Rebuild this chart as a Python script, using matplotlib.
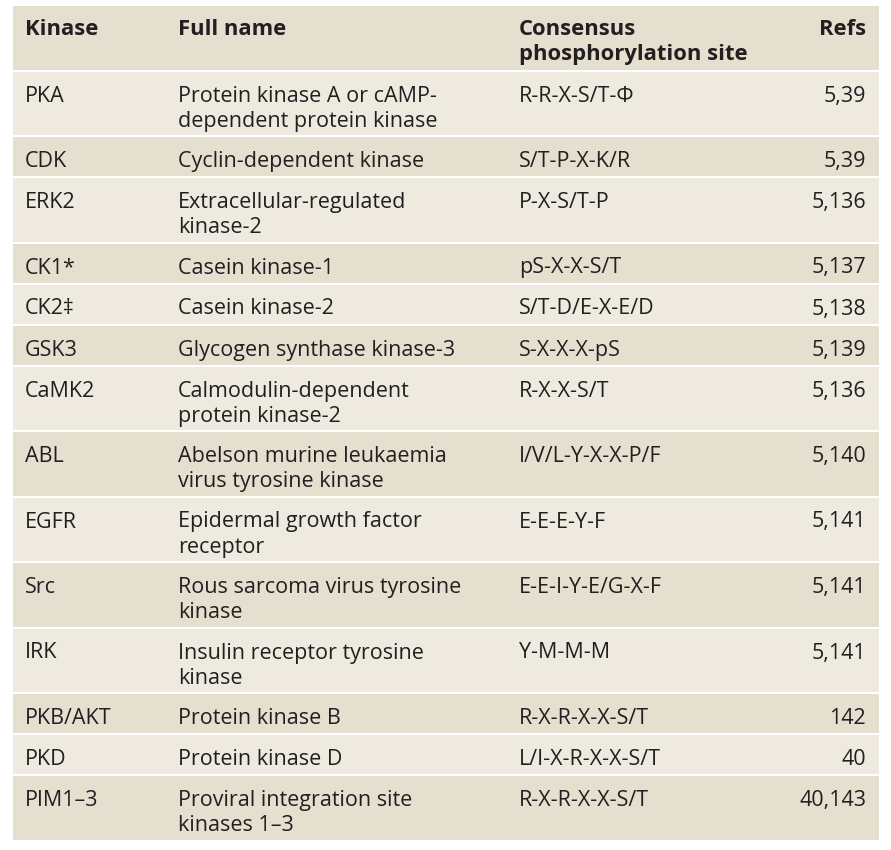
import matplotlib
matplotlib.use("Agg")
import matplotlib.pyplot as plt
from matplotlib.patches import Rectangle

# données du tableau
header = ["Kinase", "Full name", "Consensus\nphosphorylation site", "Refs"]
kinases = ["PKA", "CDK", "ERK2", "CK1*", "CK2\u2021", "GSK3", "CaMK2", "ABL",
           "EGFR", "Src", "IRK", "PKB/AKT", "PKD", "PIM1\u20133"]
full_names = [
    "Protein kinase A or cAMP-\ndependent protein kinase",
    "Cyclin-dependent kinase",
    "Extracellular-regulated\nkinase-2",
    "Casein kinase-1",
    "Casein kinase-2",
    "Glycogen synthase kinase-3",
    "Calmodulin-dependent\nprotein kinase-2",
    "Abelson murine leukaemia\nvirus tyrosine kinase",
    "Epidermal growth factor\nreceptor",
    "Rous sarcoma virus tyrosine\nkinase",
    "Insulin receptor tyrosine\nkinase",
    "Protein kinase B",
    "Protein kinase D",
    "Proviral integration site\nkinases 1\u20133",
]
sites = ["R-R-X-S/T-\u03a6", "S/T-P-X-K/R", "P-X-S/T-P", "pS-X-X-S/T",
         "S/T-D/E-X-E/D", "S-X-X-X-pS", "R-X-X-S/T", "I/V/L-Y-X-X-P/F",
         "E-E-E-Y-F", "E-E-I-Y-E/G-X-F", "Y-M-M-M", "R-X-R-X-X-S/T",
         "L/I-X-R-X-X-S/T", "R-X-R-X-X-S/T"]
refs = ["5,39", "5,39", "5,136", "5,137", "5,138", "5,139", "5,136", "5,140",
        "5,141", "5,141", "5,141", "142", "40", "40,143"]

plt.rcParams['font.family'] = ['Open Sans', 'DejaVu Sans']

W, H = 891, 850
fig = plt.figure(figsize=(W / 100, H / 100), dpi=100)
ax = fig.add_axes([0, 0, 1, 1])
ax.set_xlim(0, W)
ax.set_ylim(H, 0)
ax.axis('off')

x_left, x_right = 13, 879
col_x = [25, 178, 519]
refs_x = 866
fs = 15.5
fs_entete = 15.8
couleur_fonce = '#e5dfd0'
couleur_clair = '#eeeae0'
couleur_texte = '#231f20'
pas_simple, pas_double = 41, 65.5
ecart = 2
interligne = 25

def hauteur(lignes):
    return pas_simple if lignes == 1 else pas_double

def ecrire(x, y0, txt, ha='left', taille=fs, **kw):
    # une ligne à la fois pour garder les lignes de base
    for j, l in enumerate(txt.split('\n')):
        ax.text(x, y0 + interligne * j, l, fontsize=taille, color=couleur_texte,
                va='baseline', ha=ha, **kw)

# ligne d'en-tête
y = 6
h = 65.5
ax.add_patch(Rectangle((x_left, y), x_right - x_left, h - ecart, color=couleur_fonce, lw=0))
for i, txt in enumerate(header[:3]):
    ecrire(col_x[i], y + 29, txt, taille=fs_entete, fontweight='bold')
ecrire(refs_x, y + 29, header[3], ha='right', taille=fs_entete, fontweight='bold')
y += h

for k in range(len(kinases)):
    n = max(full_names[k].count('\n'), sites[k].count('\n')) + 1
    h = hauteur(n)
    couleur = couleur_clair if k % 2 == 0 else couleur_fonce
    ax.add_patch(Rectangle((x_left, y), x_right - x_left, h - ecart, color=couleur, lw=0))
    base = y + 30
    ecrire(col_x[0], base, kinases[k])
    ecrire(col_x[1], base, full_names[k])
    ecrire(col_x[2], base, sites[k])
    ecrire(refs_x, base, refs[k], ha='right')
    y += h

fig.savefig("out.png", dpi=100, facecolor='white')
